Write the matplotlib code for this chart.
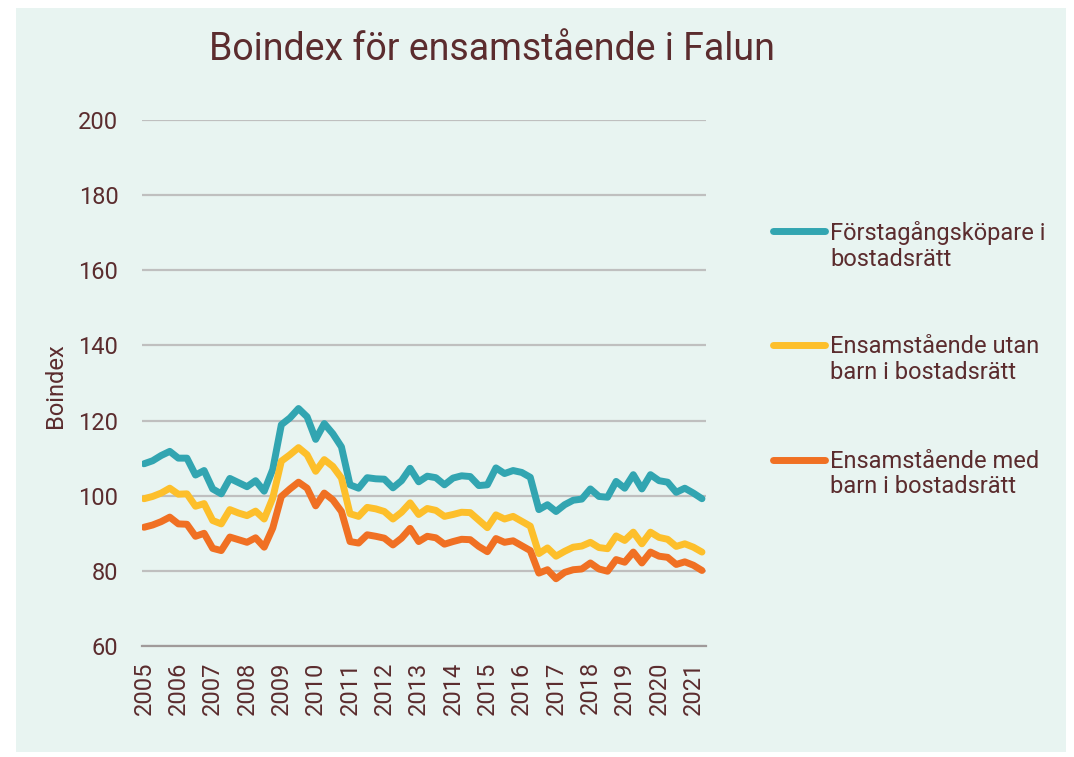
import matplotlib
matplotlib.use("Agg")
import matplotlib.pyplot as plt
from matplotlib.patches import Rectangle
from matplotlib.lines import Line2D

plt.rcParams['font.family'] = ['Roboto', 'DejaVu Sans']

title = "Boindex för ensamstående i Falun"
ylabel = "Boindex"
years = [str(y) for y in range(2005, 2022)]
series_names = ["Förstagångsköpare i\nbostadsrätt",
                "Ensamstående utan\nbarn i bostadsrätt",
                "Ensamstående med\nbarn i bostadsrätt"]
colors = ["#32A5B1", "#FDBF2B", "#F07023"]

forstagang = [108.5, 109.3, 110.7, 111.8, 110.0, 110.0, 105.5, 106.7, 101.8, 100.5,
              104.6, 103.5, 102.4, 104.0, 101.2, 107.0, 118.9, 120.7, 123.2, 121.0,
              115.0, 119.2, 116.5, 113.0, 102.9, 102.0, 104.8, 104.5, 104.4, 102.1,
              104.0, 107.3, 103.7, 105.2, 104.8, 102.9, 104.7, 105.3, 105.1, 102.7,
              102.9, 107.4, 105.9, 106.7, 106.2, 104.9, 96.3, 97.6, 95.8, 97.6,
              98.8, 99.1, 101.8, 99.8, 99.6, 103.8, 102.0, 105.6, 101.8, 105.6,
              104.0, 103.6, 100.9, 102.0, 100.7, 99.2]
utan_barn = [99.2, 99.8, 100.7, 102.0, 100.4, 100.5, 97.2, 97.9, 93.4, 92.5,
             96.3, 95.4, 94.7, 95.9, 93.8, 99.4, 109.2, 110.9, 112.8, 110.9,
             106.5, 109.6, 107.8, 104.7, 95.2, 94.5, 96.9, 96.5, 95.8, 93.8,
             95.6, 98.1, 95.0, 96.6, 96.1, 94.5, 95.0, 95.6, 95.5, 93.5,
             91.5, 94.9, 93.8, 94.5, 93.2, 91.9, 84.6, 86.1, 83.9, 85.2,
             86.3, 86.6, 87.6, 86.2, 85.9, 89.3, 88.1, 90.3, 87.2, 90.3,
             88.9, 88.4, 86.5, 87.2, 86.3, 85.0]
med_barn = [91.6, 92.2, 93.1, 94.3, 92.5, 92.4, 89.2, 90.0, 86.0, 85.4,
            89.0, 88.3, 87.6, 88.8, 86.3, 91.4, 99.8, 101.8, 103.6, 102.0,
            97.3, 100.7, 98.9, 95.8, 87.8, 87.4, 89.6, 89.2, 88.7, 86.9,
            88.7, 91.3, 87.8, 89.2, 88.8, 87.1, 87.8, 88.4, 88.3, 86.5,
            85.1, 88.6, 87.6, 88.0, 86.7, 85.4, 79.4, 80.3, 77.9, 79.6,
            80.3, 80.5, 82.1, 80.5, 79.9, 83.0, 82.3, 85.0, 82.1, 85.0,
            83.9, 83.6, 81.7, 82.4, 81.5, 80.1]
yticks = [60, 80, 100, 120, 140, 160, 180, 200]

text_color = "#5B2C2E"
bg = "#E8F4F1"

W, H = 1074, 757
fig = plt.figure(figsize=(W / 100, H / 100), dpi=100)
fig.patch.set_facecolor("white")
fig.patches.append(Rectangle((16 / W, 1 - 752 / H), (1066 - 16) / W, (752 - 8) / H,
                             transform=fig.transFigure, facecolor=bg, edgecolor="none", zorder=-10))

ax = fig.add_axes([142 / W, 1 - 646 / H, 564 / W, 526 / H])
ax.set_facecolor("none")
ax.set_zorder(2)

n = len(forstagang)
x = list(range(n))
for vals, c in zip([forstagang, utan_barn, med_barn], colors):
    ax.plot(x, vals, color=c, lw=5, solid_joinstyle="round", solid_capstyle="round", zorder=3)

ax.set_xlim(-0.233, 65.47)
ax.set_ylim(60, 200)
ax.set_yticks(yticks)
ax.set_xticks(list(range(0, n, 4)))
ax.set_xticklabels(years, rotation=90)
ax.yaxis.grid(True, color="#BFBFBF", lw=1.6, zorder=1)
ax.set_axisbelow(True)
for s in ["top", "right", "left"]:
    ax.spines[s].set_visible(False)
ax.spines["bottom"].set_color("#A09A9A")
ax.spines["bottom"].set_linewidth(1.6)
ax.tick_params(axis="y", length=0, pad=17, labelsize=17, labelcolor=text_color)
ax.tick_params(axis="x", length=0, pad=11, labelsize=17, labelcolor=text_color)
ax.set_ylabel(ylabel, fontsize=17, color=text_color)
ax.yaxis.set_label_coords((67 - 142) / 564, (646 - 386) / 526)

fig.text(492 / W, 1 - 50 / H, title, ha="center", va="center", fontsize=27, color=text_color)

line_y = [231, 345.5, 460]
block_y = [246, 359.5, 474]
for name, c, ly, by in zip(series_names, colors, line_y, block_y):
    fig.lines.append(Line2D([773 / W, 825 / W], [1 - ly / H, 1 - ly / H], transform=fig.transFigure,
                            color=c, lw=5, solid_capstyle="round"))
    fig.text(830 / W, 1 - by / H, name, ha="left", va="center", fontsize=17,
             color=text_color, linespacing=1.15)

fig.savefig("out.png", dpi=100, facecolor=fig.get_facecolor())
